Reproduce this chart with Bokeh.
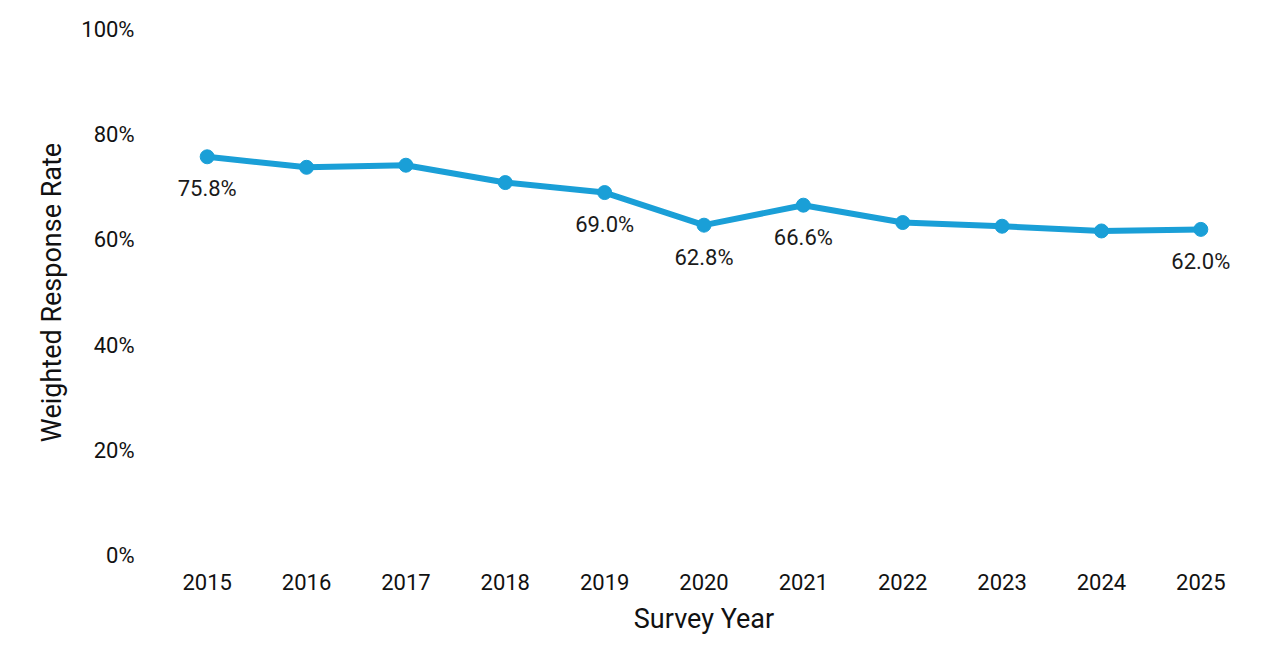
from bokeh.plotting import figure
from bokeh.models import ColumnDataSource, FixedTicker, Range1d
from bokeh.core.properties import value
from bokeh.embed import file_html
from bokeh.resources import INLINE

years = [2015, 2016, 2017, 2018, 2019, 2020, 2021, 2022, 2023, 2024, 2025]
rates = [75.8, 73.8, 74.2, 70.9, 69.0, 62.8, 66.6, 63.3, 62.6, 61.7, 62.0]
label_years = [2015, 2019, 2020, 2021, 2025]
y_ticks = [0, 20, 40, 60, 80, 100]

COLOR = "#1a9fd7"
FONT = "Roboto"

p = figure(width=1264, height=653, output_backend="svg", toolbar_location=None,
           x_range=Range1d(2014.5, 2025.5), y_range=Range1d(0, 100),
           min_border_left=157, min_border_right=14, min_border_top=29, min_border_bottom=98)
p.outline_line_color = None
p.xgrid.grid_line_color = None
p.ygrid.grid_line_color = None

src = ColumnDataSource(dict(x=years, y=rates))
p.line("x", "y", source=src, line_color=COLOR, line_width=6)
p.scatter("x", "y", source=src, size=14, fill_color=COLOR, line_color=COLOR)

lx = [y for y in years if y in label_years]
ly = [r for y, r in zip(years, rates) if y in label_years]
lt = [f"{r:.1f}%" for r in ly]
p.text(x=lx, y=ly, text=lt, text_align="center", text_baseline="middle",
       y_offset=32, text_font=value(FONT), text_font_size="22px", text_color="#1a1a1a")

for ax in (p.xaxis[0], p.yaxis[0]):
    ax.axis_line_color = None
    ax.major_tick_line_color = None
    ax.minor_tick_line_color = None
    ax.major_label_text_font = FONT
    ax.major_label_text_font_size = "22px"
    ax.major_label_text_color = "#111111"
    ax.axis_label_text_font = FONT
    ax.axis_label_text_font_size = "27px"
    ax.axis_label_text_font_style = "normal"
    ax.axis_label_text_color = "#111111"

p.xaxis.ticker = FixedTicker(ticks=years)
p.xaxis.major_label_standoff = 12
p.xaxis.axis_label = "Survey Year"
p.xaxis.axis_label_standoff = 10

p.yaxis.ticker = FixedTicker(ticks=y_ticks)
p.yaxis.major_label_overrides = {t: f"{t}%" for t in y_ticks}
p.yaxis.major_label_standoff = 17
p.yaxis.axis_label = "Weighted Response Rate"
p.yaxis.axis_label_standoff = 10

open("out.html", "w").write(file_html(p, INLINE))
